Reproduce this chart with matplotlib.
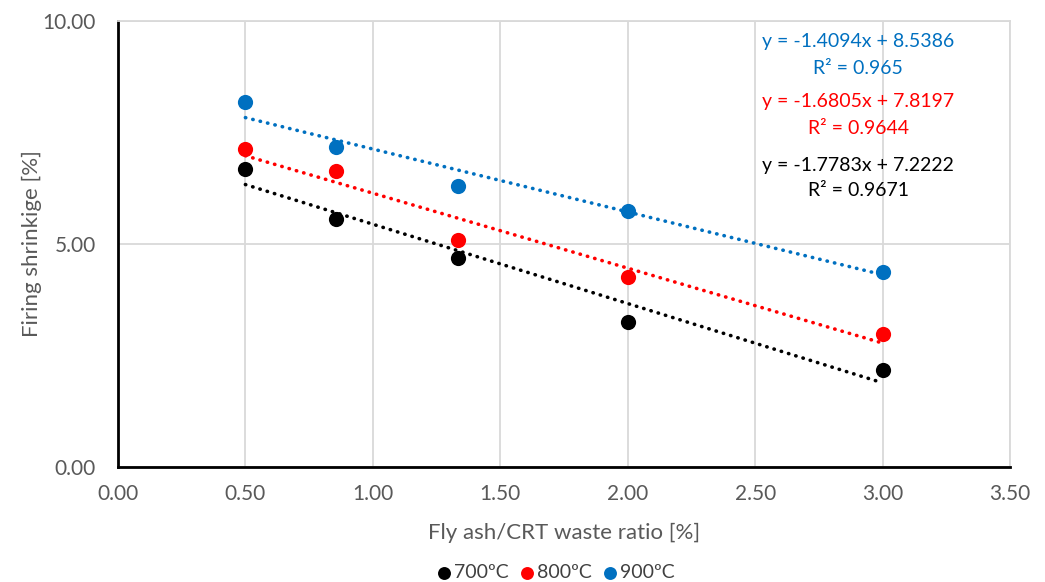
import numpy as np
import matplotlib.pyplot as plt

# fly ash / CRT waste ratio of each mix
ratio = [0.5, 0.857, 1.333, 2.0, 3.0]

# firing shrinkage [%] per firing temperature
shrink_700 = [6.68, 5.57, 4.68, 3.25, 2.17]
shrink_800 = [7.12, 6.63, 5.08, 4.25, 2.98]
shrink_900 = [8.18, 7.17, 6.29, 5.75, 4.38]

# linear trendline coefficients (slope, intercept) and R^2
fit_700 = [-1.7783, 7.2222]
fit_800 = [-1.6805, 7.8197]
fit_900 = [-1.4094, 8.5386]
r2_labels = ["0.9671", "0.9644", "0.965"]

labels = ["700ºC", "800ºC", "900ºC"]
colors = ["#000000", "#ff0000", "#0070c0"]

plt.rcParams['font.family'] = ['Lato', 'DejaVu Sans']

fig = plt.figure(figsize=(10.45, 5.82), dpi=100)
ax = fig.add_axes([0.1129, 0.1976, 0.8536, 0.7663])

series = [shrink_700, shrink_800, shrink_900]
fits = [fit_700, fit_800, fit_900]
for ys, (m, b), c, lab in zip(series, fits, colors, labels):
    xs = np.array([ratio[0], ratio[-1]])
    ax.plot(xs, m * xs + b, color=c, lw=2.6, linestyle=(0, (0.1, 2.0)),
            dash_capstyle='round', zorder=2)
    ax.scatter(ratio, ys, s=120, color=c, label=lab, zorder=3, linewidths=0)

# equation boxes, top right
eq_y = [(166, 191), (101, 128), (42, 68)]
for (m, b), r2, c, (y1, y2) in zip(fits, r2_labels, colors, eq_y):
    txt = f"y = {m:.4f}x + {b:.4f}"
    fig.text(858 / 1045, 1 - y1 / 582, txt, color=c, fontsize=14,
             ha='center', va='center')
    fig.text(858 / 1045, 1 - y2 / 582, f"R² = {r2}", color=c, fontsize=14,
             ha='center', va='center')

ax.set_xlim(0, 3.5)
ax.set_ylim(0, 10)
ax.set_xticks(np.arange(0, 3.51, 0.5))
ax.set_yticks([0, 5, 10])
ax.xaxis.set_major_formatter(plt.FormatStrFormatter('%.2f'))
ax.yaxis.set_major_formatter(plt.FormatStrFormatter('%.2f'))
ax.tick_params(length=0, labelsize=15, labelcolor='#595959')
ax.tick_params(axis='y', pad=16)
ax.tick_params(axis='x', pad=12)
ax.grid(True, color='#d9d9d9', lw=1.3)
ax.set_axisbelow(True)

for side in ['top', 'right']:
    ax.spines[side].set_color('#d9d9d9')
    ax.spines[side].set_linewidth(1.3)
for side in ['left', 'bottom']:
    ax.spines[side].set_color('black')
    ax.spines[side].set_linewidth(2)

ax.set_xlabel("Fly ash/CRT waste ratio [%]", fontsize=16, color='#595959',
              labelpad=14)
ax.set_ylabel("Firing shrinkige [%]", fontsize=16, color='#595959',
              labelpad=0)

ax.legend(loc='center', bbox_to_anchor=(556 / 1045, 1 - 573 / 582),
          bbox_transform=fig.transFigure, ncol=3, frameon=False,
          fontsize=14, handlelength=0.7, handletextpad=0.15,
          columnspacing=0.6, markerscale=0.85, labelcolor='#404040')

fig.savefig("out.png", dpi=100)
